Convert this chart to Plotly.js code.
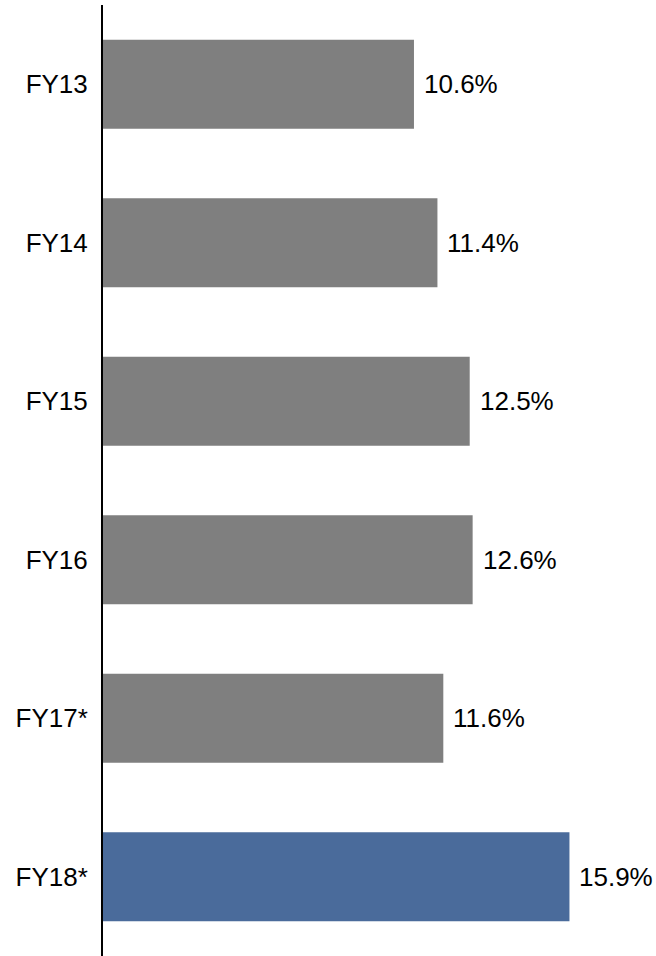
<!DOCTYPE html>
<html>
<head>
<meta charset="utf-8">
<script src="https://cdn.plot.ly/plotly-3.0.1.min.js"></script>
<style>
  html, body { margin: 0; padding: 0; background: #ffffff; }
  #chart { width: 656px; height: 956px; }
</style>
</head>
<body>
<div id="chart"></div>
<script>
const categories = ["FY13", "FY14", "FY15", "FY16", "FY17*", "FY18*"];
const values = [10.6, 11.4, 12.5, 12.6, 11.6, 15.9];
const valueLabels = ["10.6%", "11.4%", "12.5%", "12.6%", "11.6%", "15.9%"];
const barColors = ["#7f7f7f", "#7f7f7f", "#7f7f7f", "#7f7f7f", "#7f7f7f", "#4a6b9b"];

const FONT = "'Liberation Sans Narrow', 'Arial Narrow', 'Liberation Sans', sans-serif";

const trace = {
  type: "bar",
  orientation: "h",
  x: values,
  y: categories,
  marker: { color: barColors, line: { width: 0 } },
  hoverinfo: "skip"
};

const annotations = categories.map((c, i) => ({
  x: values[i],
  y: c,
  xref: "x",
  yref: "y",
  text: valueLabels[i],
  showarrow: false,
  xanchor: "left",
  yanchor: "middle",
  xshift: 8,
  font: { family: FONT, size: 26, color: "#000000" }
}));

const layout = {
  width: 656,
  height: 956,
  margin: { l: 103, r: 0, t: 5, b: 0, pad: 0 },
  paper_bgcolor: "#ffffff",
  plot_bgcolor: "#ffffff",
  showlegend: false,
  bargap: 0.44,
  font: { family: FONT, size: 26, color: "#000000" },
  xaxis: {
    range: [0, 18.85],
    visible: false,
    showgrid: false,
    zeroline: false,
    fixedrange: true
  },
  yaxis: {
    autorange: "reversed",
    type: "category",
    showline: true,
    linecolor: "#000000",
    linewidth: 2,
    showgrid: false,
    zeroline: false,
    ticks: "",
    ticklabelstandoff: 8,
    tickfont: { family: FONT, size: 26, color: "#000000" },
    fixedrange: true
  },
  annotations: annotations
};

Plotly.newPlot("chart", [trace], layout, { displayModeBar: false, staticPlot: true });
</script>
</body>
</html>
